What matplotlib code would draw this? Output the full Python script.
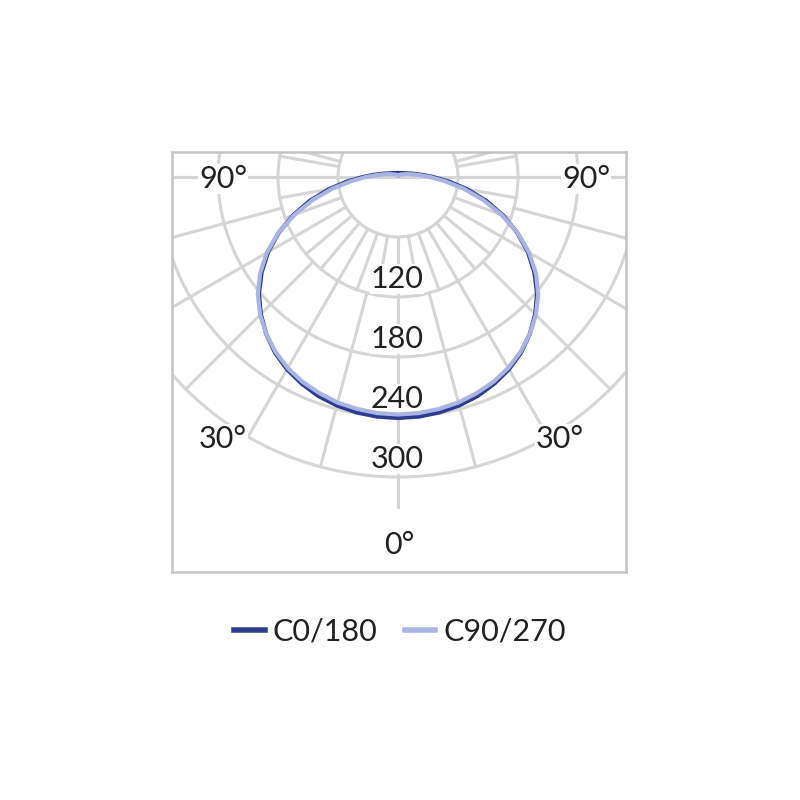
import numpy as np
import matplotlib.pyplot as plt

# luminous intensity in cd, angle measured from nadir (half curve, mirrored below)
angles = [0, 5, 10, 15, 20, 25, 30, 35, 40, 45, 50, 55, 60, 65, 70, 75, 80, 85, 90,
          95, 100, 105, 110, 120, 130, 140, 150, 160, 170, 180]
c0_180 = [241, 240.5, 239, 236.5, 233, 228, 222, 214.5, 205, 194, 181.5, 166.5, 150, 131.5,
          111.5, 91, 70, 51, 35, 24.5, 17.5, 13.5, 10.5, 7.7, 6.1, 5.2, 4.6, 4.2, 4.1, 4.0]
c90_270 = [237.5, 237, 235.5, 233.5, 230, 226, 220.5, 213.5, 205, 195, 183, 168.5, 151.5, 132,
           110, 88, 66.5, 47, 32, 21.5, 15, 11, 8.3, 5.2, 3.8, 2.8, 2.2, 1.8, 1.6, 1.5]
series_names = ['C0/180', 'C90/270']
series_colors = ['#2d3c8e', '#a9b4e2']

ring_values = [60, 120, 180, 240, 300]
ring_labels = ['120', '180', '240', '300']
angle_labels = ['90°', '90°', '30°', '30°', '0°']

grid_c = '#d5d5d5'
text_c = '#222222'
plt.rcParams['font.family'] = ['Lato', 'DejaVu Sans']

fig = plt.figure(figsize=(8, 8), dpi=100)
ax = fig.add_axes([0.215, 0.285, 0.5675, 0.525])
ax.set_xlim(-226, 228)
ax.set_ylim(-395, 25)
ax.set_aspect('equal')
ax.set_xticks([])
ax.set_yticks([])
for sp in ax.spines.values():
    sp.set_color('#c4c4c4')
    sp.set_linewidth(1.8)

# grid: rings and spokes
for r in ring_values:
    ax.add_patch(plt.Circle((0, 0), r, fill=False, ec=grid_c, lw=2.2, zorder=1))
ax.plot([-300, 300], [0, 0], color=grid_c, lw=2.2, zorder=1)
for a in range(-100, 101, 10):
    t = np.deg2rad(a)
    ax.plot([60 * np.sin(t), 120 * np.sin(t)], [-60 * np.cos(t), -120 * np.cos(t)],
            color=grid_c, lw=2.2, zorder=1)
for a in range(-105, 106, 15):
    t = np.deg2rad(a)
    r0 = 60 if abs(a) > 90 else 120
    r1 = 330 if a == 0 else 300
    ax.plot([r0 * np.sin(t), r1 * np.sin(t)], [-r0 * np.cos(t), -r1 * np.cos(t)],
            color=grid_c, lw=2.2, zorder=1)

# ring values and angle labels
for r, lab in zip(ring_values[1:], ring_labels):
    ax.text(-1, -(r - 18), lab, ha='center', va='center', fontsize=22, color=text_c,
            zorder=2, bbox=dict(fc='white', ec='none', pad=0.5))
angle_pos = [(-175, -2), (188, -2), (-175, -262), (162, -262), (1, -368)]
for (x, y), lab in zip(angle_pos, angle_labels):
    ax.text(x, y, lab, ha='center', va='center', fontsize=22, color=text_c,
            zorder=2, bbox=dict(fc='white', ec='none', pad=0.5))

# intensity curves, light one on top
ang = np.array(angles, dtype=float)
th = np.deg2rad(np.concatenate([-ang[::-1], ang[1:]]))
handles = []
for vals, name, col, z in zip([c0_180, c90_270], series_names, series_colors, [3, 4]):
    v = np.array(vals, dtype=float)
    r = np.concatenate([v[::-1], v[1:]])
    h, = ax.plot(r * np.sin(th), -r * np.cos(th), color=col, lw=3.0, label=name,
                 zorder=z, solid_joinstyle='round')
    handles.append(h)

leg = fig.legend(handles=handles, loc='center', bbox_to_anchor=(0.5, 0.21), ncol=2,
                 frameon=False, fontsize=22, handlelength=1.0, handletextpad=0.25,
                 columnspacing=0.9, labelcolor=text_c)
for lh in leg.get_lines():
    lh.set_linewidth(4)

fig.savefig('out.png', dpi=100, facecolor='white')
